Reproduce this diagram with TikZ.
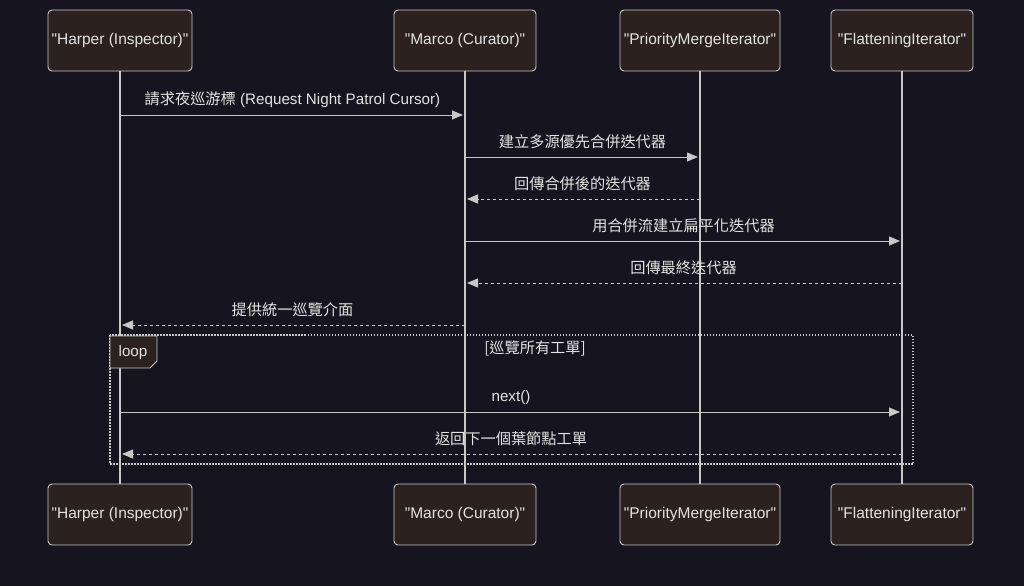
\documentclass[tikz,border=0pt]{standalone}
\usepackage{fontspec}
\setmainfont{Liberation Sans}
\newfontfamily\cjk{Noto Sans CJK TC}
\usetikzlibrary{arrows.meta}
\definecolor{nen}{HTML}{16141F}
\definecolor{hop}{HTML}{2B2220}
\definecolor{vien}{HTML}{C8C8C8}
\definecolor{chu}{HTML}{E2E2E2}
\newcommand{\qt}[1]{\textquotedbl#1\textquotedbl}
\tikzset{
    actor/.style={draw=vien, fill=hop, rounded corners=4pt, line width=0.9pt,
        minimum height=61pt, text=chu, font=\fontsize{15.5}{18}\selectfont},
    life/.style={vien, line width=1.3pt},
    msg/.style={vien, line width=1pt, -{Triangle[length=11pt, width=9pt]}, shorten >=2pt},
    reply/.style={msg, dash pattern=on 3pt off 3pt},
    lbl/.style={text=chu, font=\fontsize{15.2}{18}\selectfont}
}
\begin{document}
\begin{tikzpicture}[x=1pt, y=-1pt]
    % 1. Nền
    \fill[nen] (0,0) rectangle (1024,586);
    \useasboundingbox (0,0) rectangle (1024,586);

    % 2. Các đối tượng
    \node[actor, minimum width=144pt] (hT) at (120,40.5) {\qt{Harper (Inspector)}};
    \node[actor, minimum width=142pt] (mT) at (465,40.5) {\qt{Marco (Curator)}};
    \node[actor, minimum width=160pt] (pT) at (700,40.5) {\qt{PriorityMergeIterator}};
    \node[actor, minimum width=142pt] (fT) at (902,40.5) {\qt{FlatteningIterator}};
    \node[actor, minimum width=144pt] (hB) at (120,514.5) {\qt{Harper (Inspector)}};
    \node[actor, minimum width=142pt] (mB) at (465,514.5) {\qt{Marco (Curator)}};
    \node[actor, minimum width=160pt] (pB) at (700,514.5) {\qt{PriorityMergeIterator}};
    \node[actor, minimum width=142pt] (fB) at (902,514.5) {\qt{FlatteningIterator}};

    % 3. Đường sống
    \foreach \a in {h,m,p,f} {
        \draw[life] (\a T.south) -- (\a B.north);
    }

    % 4. Khung loop
    \draw[vien, line width=1.5pt, dash pattern=on 1.5pt off 1.5pt]
        (110,335) rectangle (913,464);
    \draw[vien, fill=hop, line width=0.8pt]
        (110,336) -- (157,336) -- (157,361) -- (150,368) -- (110,368) -- cycle;
    \node[lbl] (loopT) at (133,353) {loop};
    \node[lbl] (loopC) at (535,348) {{\cjk [巡覽所有工單]}};

    % 5. Thông điệp
    \draw[msg] (hT.south |- 0,115) -- (mT.south |- 0,115)
        node[lbl, midway, above=4pt] {{\cjk 請求夜巡游標} (Request Night Patrol Cursor)};
    \draw[msg] (mT.south |- 0,157) -- (pT.south |- 0,157)
        node[lbl, midway, above=4pt] {\cjk 建立多源優先合併迭代器};
    \draw[reply] (pT.south |- 0,199) -- (mT.south |- 0,199)
        node[lbl, midway, above=4pt] {\cjk 回傳合併後的迭代器};
    \draw[msg] (mT.south |- 0,241) -- (fT.south |- 0,241)
        node[lbl, midway, above=4pt] {\cjk 用合併流建立扁平化迭代器};
    \draw[reply] (fT.south |- 0,283) -- (mT.south |- 0,283)
        node[lbl, midway, above=4pt] {\cjk 回傳最終迭代器};
    \draw[reply] (mT.south |- 0,325) -- (hT.south |- 0,325)
        node[lbl, midway, above=4pt] {\cjk 提供統一巡覽介面};
    \draw[msg] (hT.south |- 0,412) -- (fT.south |- 0,412)
        node[lbl, midway, above=4pt] {next()};
    \draw[reply] (fT.south |- 0,454) -- (hT.south |- 0,454)
        node[lbl, midway, above=4pt] {\cjk 返回下一個葉節點工單};
\end{tikzpicture}
\end{document}
